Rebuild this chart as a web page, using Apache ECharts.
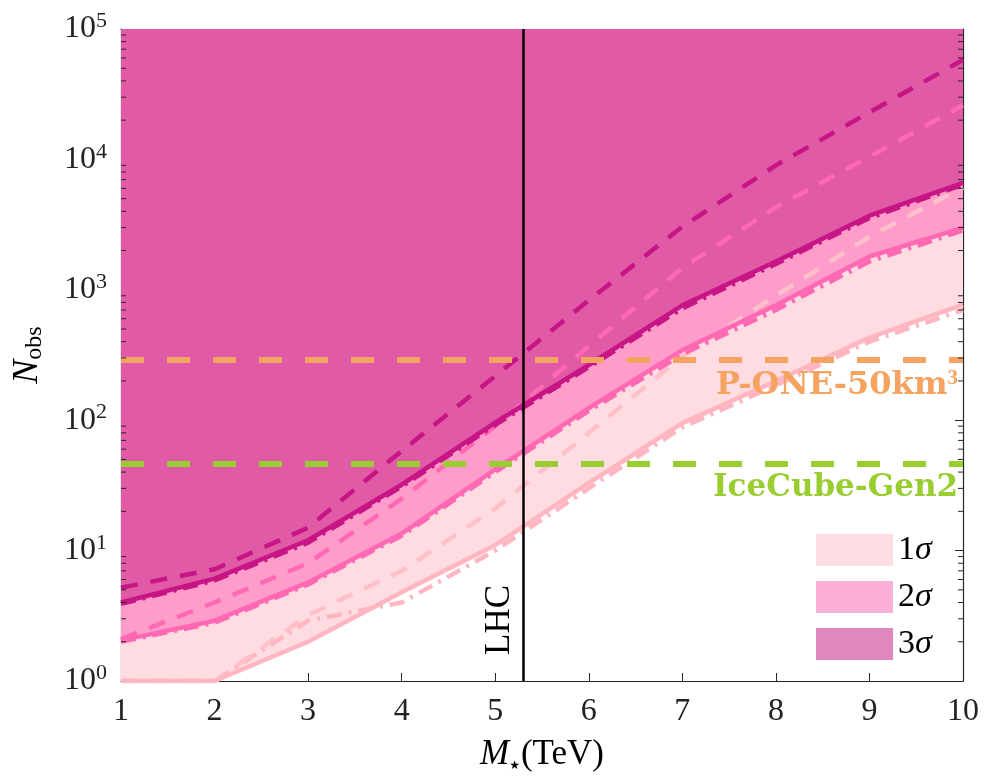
<!DOCTYPE html>
<html>
<head>
<meta charset="utf-8">
<script src="https://cdn.jsdelivr.net/npm/echarts@6/dist/echarts.min.js"></script>
<style>
  html, body { margin: 0; padding: 0; background: #fff; }
  #chart { width: 984px; height: 778px; }
</style>
</head>
<body>
<div id="chart"></div>
<script>
// M_star in TeV
const mass = [1, 2, 3, 4, 5, 6, 7, 8, 9, 10];

// 3 sigma curves (dark magenta)
const sig3Solid = [4, 6.1, 12, 32, 96, 265, 760, 1650, 3700, 6600];
const sig3Dash = [5.2, 7.2, 15, 58, 218, 830, 3050, 9000, 23000, 58000];
const sig3DashDot = [3.9, 5.9, 11.5, 31, 92, 255, 720, 1580, 3550, 6400];

// 2 sigma curves (hot pink)
const sig2Solid = [2.05, 2.9, 5.7, 13.5, 42, 124, 345, 760, 1800, 3000];
const sig2Dash = [2.1, 4, 8, 25, 90, 370, 1470, 4300, 10500, 26000];
const sig2DashDot = [2, 2.8, 5.5, 13, 40, 118, 320, 700, 1650, 2850];

// 1 sigma curves (light pink)
const sig1Solid = [1, 1, 2, 4.8, 11, 33, 95, 200, 430, 770];
const sig1Dash = [1, 1, 3.2, 7, 21, 80, 310, 900, 2550, 6100];
const sig1DashDot = [1, 1, 2.9, 4, 10, 30, 88, 185, 400, 700];

// reference lines
const lhcMass = 5.3;
const pOneCount = 290;
const iceCubeCount = 46;

const minorSteps = [2, 3, 4, 5, 6, 7, 8, 9];
const decades = [1, 10, 100, 1000, 10000];

const serif = '"Liberation Serif", "DejaVu Serif", serif';
const boldSerif = '"DejaVu Serif", "Liberation Serif", serif';
const axisColor = '#262626';

const chart = echarts.init(document.getElementById('chart'));

function pairs(ys) {
  return mass.map((m, i) => [m, ys[i]]);
}

/** band fill: from curve up to the top of the axis */
function fill(name, ys, color) {
  return {
    name: name,
    type: 'line',
    data: pairs(ys),
    symbol: 'none',
    silent: true,
    z: 1,
    lineStyle: { width: 0 },
    itemStyle: { color: color },
    areaStyle: { color: color, opacity: 1, origin: 'end' }
  };
}

function curve(ys, color, dash) {
  return {
    type: 'line',
    data: pairs(ys),
    symbol: 'none',
    silent: true,
    z: 3,
    lineStyle: { color: color, width: 4.5, type: dash }
  };
}

const dashed = [17, 13];
const dashDot = [15, 7, 3, 7];

const minorTicks = [];
decades.forEach(d => minorSteps.forEach(s => minorTicks.push([1, s * d])));

const option = {
  animation: false,
  backgroundColor: '#fff',
  grid: { left: 121, right: 21, top: 29, bottom: 97 },
  legend: {
    left: 811,
    top: 528,
    orient: 'vertical',
    icon: 'rect',
    itemWidth: 77,
    itemHeight: 32,
    itemGap: 13,
    selectedMode: false,
    data: [
      { name: '1σ', itemStyle: { color: '#fedde3' } },
      { name: '2σ', itemStyle: { color: '#fdb0d6' } },
      { name: '3σ', itemStyle: { color: '#e087c0' } }
    ],
    formatter: name => '{n|' + name[0] + '}{s|σ}',
    textStyle: {
      rich: {
        n: { fontFamily: serif, fontSize: 34, color: '#000' },
        s: { fontFamily: serif, fontSize: 34, fontStyle: 'italic', color: '#000' }
      }
    }
  },
  xAxis: [
    {
      type: 'value',
      min: 1,
      max: 10,
      interval: 1,
      name: '{i|M}{sub|★}{r|(TeV)}',
      nameLocation: 'middle',
      nameGap: 56,
      nameTextStyle: {
        rich: {
          i: { fontFamily: serif, fontSize: 35, fontStyle: 'italic', color: '#000' },
          sub: { fontFamily: '"DejaVu Sans", serif', fontSize: 12, color: '#000', verticalAlign: 'bottom', padding: [16, 1, 0, 0] },
          r: { fontFamily: serif, fontSize: 35, color: '#000' }
        }
      },
      axisLine: { lineStyle: { color: axisColor, width: 1.2 } },
      axisTick: { inside: true, length: 8, lineStyle: { color: axisColor } },
      axisLabel: { fontFamily: serif, fontSize: 32, color: '#222', margin: 15 },
      splitLine: { show: false }
    },
    {
      type: 'value',
      position: 'top',
      min: 1,
      max: 10,
      interval: 1,
      axisLine: { show: true, lineStyle: { color: axisColor, width: 1.2 } },
      axisTick: { inside: true, length: 8, lineStyle: { color: axisColor } },
      axisLabel: { show: false },
      splitLine: { show: false }
    }
  ],
  yAxis: [
    {
      type: 'log',
      logBase: 10,
      min: 1,
      max: 100000,
      name: '{n|N}{s|obs}',
      nameLocation: 'middle',
      nameGap: 74,
      nameRotate: 90,
      nameTextStyle: {
        rich: {
          n: { fontFamily: serif, fontSize: 36, fontStyle: 'italic', color: '#000' },
          s: { fontFamily: serif, fontSize: 24, color: '#000', verticalAlign: 'bottom', padding: [14, 0, 0, 0] }
        }
      },
      axisLine: { show: true, lineStyle: { color: axisColor, width: 1.2 } },
      axisTick: { inside: true, length: 8, lineStyle: { color: axisColor } },
      axisLabel: {
        margin: 14,
        formatter: v => '{b|10}{s|' + Math.round(Math.log10(v)) + '}',
        rich: {
          b: { fontFamily: serif, fontSize: 32, color: '#222' },
          s: { fontFamily: serif, fontSize: 22, color: '#222', verticalAlign: 'top', padding: [0, 0, 15, 0] }
        }
      },
      splitLine: { show: false }
    },
    {
      type: 'log',
      logBase: 10,
      min: 1,
      max: 100000,
      position: 'right',
      axisLine: { show: true, lineStyle: { color: axisColor, width: 1.2 } },
      axisTick: { inside: true, length: 8, lineStyle: { color: axisColor } },
      axisLabel: { show: false },
      splitLine: { show: false }
    }
  ],
  series: [
    fill('1σ', sig1Solid, '#ffdce2'),
    fill('2σ', sig2Solid, '#fe9dca'),
    fill('3σ', sig3Solid, '#e05aa5'),

    curve(sig1DashDot, '#ffb6c1', dashDot),
    curve(sig1Dash, '#ffc0cb', dashed),
    curve(sig1Solid, '#ffb6c1', 'solid'),

    curve(sig2DashDot, '#ff69b4', dashDot),
    curve(sig2Dash, '#ff69b4', dashed),
    curve(sig2Solid, '#ff69b4', 'solid'),

    curve(sig3DashDot, '#c71585', dashDot),
    curve(sig3Dash, '#c71585', dashed),
    curve(sig3Solid, '#c71585', 'solid'),

    {
      type: 'line',
      data: [],
      silent: true,
      z: 5,
      markLine: {
        symbol: 'none',
        silent: true,
        animation: false,
        data: [
          {
            xAxis: lhcMass,
            lineStyle: { color: '#000', width: 2.5, type: 'solid' },
            label: {
              show: true,
              formatter: 'LHC',
              position: 'insideStartTop',
              distance: [26, 6],
              fontFamily: serif,
              fontSize: 35,
              color: '#000'
            }
          },
          {
            yAxis: pOneCount,
            lineStyle: { color: '#f4a460', width: 6, type: [23, 23] },
            label: {
              show: true,
              formatter: 'P-ONE-50km{sup|3}',
              position: 'insideEndBottom',
              distance: [5, 8],
              fontFamily: boldSerif,
              fontWeight: 'bold',
              fontSize: 32,
              color: '#f4a460',
              rich: {
                sup: { fontFamily: serif, fontSize: 21, color: '#f4a460', verticalAlign: 'top', padding: [0, 0, 15, 0] }
              }
            }
          },
          {
            yAxis: iceCubeCount,
            lineStyle: { color: '#9acd32', width: 6, type: [23, 23] },
            label: {
              show: true,
              formatter: 'IceCube-Gen2',
              position: 'insideEndBottom',
              distance: [5, 8],
              fontFamily: boldSerif,
              fontWeight: 'bold',
              fontSize: 31,
              color: '#9acd32'
            }
          }
        ]
      }
    },

    // log-spaced minor ticks on left and right frame
    {
      type: 'custom',
      data: minorTicks,
      silent: true,
      clip: false,
      z: 6,
      renderItem: (params, api) => {
        const v = api.value(1);
        const a = api.coord([1, v]);
        const b = api.coord([10, v]);
        const st = { stroke: axisColor, lineWidth: 1 };
        return {
          type: 'group',
          children: [
            { type: 'line', shape: { x1: a[0], y1: a[1], x2: a[0] + 5, y2: a[1] }, style: st },
            { type: 'line', shape: { x1: b[0] - 5, y1: b[1], x2: b[0], y2: b[1] }, style: st }
          ]
        };
      }
    }
  ]
};

chart.setOption(option);
</script>
</body>
</html>
